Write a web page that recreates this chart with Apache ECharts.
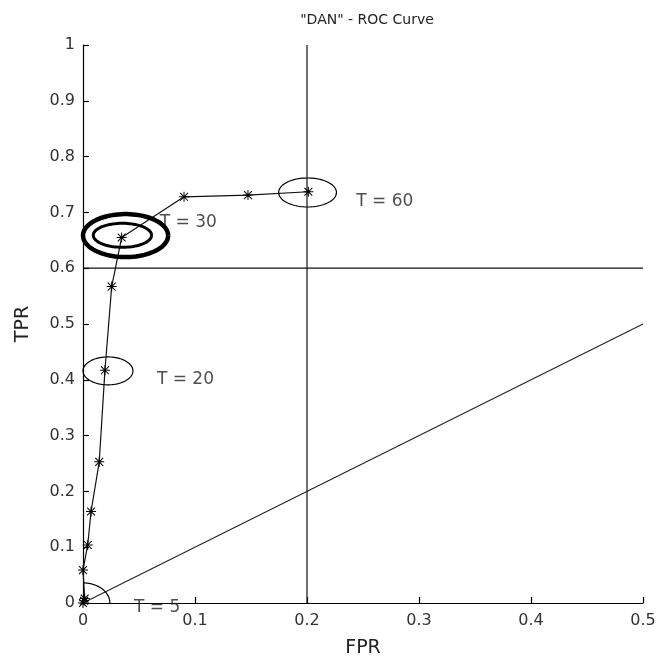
<!DOCTYPE html>
<html>
<head>
    <meta charset="UTF-8">
    <title>DAN - ROC Curve</title>
    <script type="text/javascript" src="https://cdn.jsdelivr.net/npm/echarts@6/dist/echarts.min.js"></script>
    <style>
        html, body { margin: 0; padding: 0; background: #fff; }
        #myChart { width: 659px; height: 667px; }
    </style>
</head>
<body>
<div id="myChart"></div>
<script>
// ROC points (FPR, TPR)
var fpr = [0, 0.001, 0.0015, 0, 0.0042, 0.0072, 0.0145, 0.0196, 0.0256, 0.0345, 0.0902, 0.1473, 0.2012];
var tpr = [0, 0.004, 0.008, 0.059, 0.104, 0.164, 0.253, 0.417, 0.567, 0.655, 0.728, 0.731, 0.737];

// diagonal and cut lines
var diagX = [0, 0.5];
var diagY = [0, 0.5];
var cutFpr = 0.2;
var cutTpr = 0.6;

// ellipses round the threshold points (data units)
var ellCx = [0, 0.0223, 0.0352, 0.038, 0.2005];
var ellCy = [0, 0.416, 0.659, 0.6585, 0.7357];
var ellRx = [0.024, 0.0223, 0.026, 0.038, 0.0258];
var ellRy = [0.036, 0.025, 0.0215, 0.0385, 0.026];
var ellLw = [1.2, 1.2, 3, 4.5, 1.2];
var ellEnd = [90, 360, 360, 360, 360]; // degrees drawn

// threshold labels
var labelText = ['T = 5', 'T = 20', 'T = 30', 'T = 60'];
var labelX = [0.0455, 0.066, 0.0686, 0.244];
var labelY = [-0.009, 0.3996, 0.6815, 0.7186];

var xTicks = [0, 0.5, 0.1];
var yTicks = [0, 1, 0.1];

var star = 'path://M9 0L11 0L11 20L9 20Z M0 9L20 9L20 11L0 11Z' +
    'M1.4 2.8L2.8 1.4L18.6 17.2L17.2 18.6Z M17.2 1.4L18.6 2.8L2.8 18.6L1.4 17.2Z';

var chart_myChart = echarts.init(document.getElementById('myChart'), null, {renderer: 'canvas'});

var rocData = [];
for (var i = 0; i < fpr.length; i++) {
    rocData.push([fpr[i], tpr[i]]);
}
var diagData = [];
for (var i = 0; i < diagX.length; i++) {
    diagData.push([diagX[i], diagY[i]]);
}
var ellData = [];
for (var i = 0; i < ellCx.length; i++) {
    ellData.push([ellCx[i], ellCy[i], ellRx[i], ellRy[i], ellLw[i], ellEnd[i]]);
}
var labelData = [];
for (var i = 0; i < labelText.length; i++) {
    labelData.push({name: labelText[i], value: [labelX[i], labelY[i]]});
}

var font = 'DejaVu Sans';

var axisCommon = {
    splitLine: {show: false},
    axisLine: {show: true, onZero: false, lineStyle: {color: '#000', width: 1.2}},
    axisTick: {show: true, inside: true, length: 6, lineStyle: {color: '#000', width: 1.2}},
    axisLabel: {color: '#333', fontSize: 16, fontFamily: font},
    nameLocation: 'middle',
    nameTextStyle: {color: '#222', fontSize: 19, fontFamily: font}
};

var option = {
    animation: false,
    backgroundColor: '#fff',
    title: {
        text: '"DAN" - ROC Curve',
        left: 362,
        textAlign: 'center',
        top: 8,
        textStyle: {fontSize: 14, fontWeight: 'normal', color: '#222', fontFamily: font}
    },
    grid: {left: 83, right: 16, top: 45, bottom: 64},
    xAxis: Object.assign({}, axisCommon, {
        type: 'value', min: xTicks[0], max: xTicks[1], interval: xTicks[2],
        name: 'FPR', nameGap: 36,
        axisLabel: Object.assign({}, axisCommon.axisLabel, {margin: 10})
    }),
    yAxis: Object.assign({}, axisCommon, {
        type: 'value', min: yTicks[0], max: yTicks[1], interval: yTicks[2],
        name: 'TPR', nameGap: 50,
        axisLabel: Object.assign({}, axisCommon.axisLabel, {margin: 8})
    }),
    series: [
        {
            type: 'line',
            data: diagData,
            symbol: 'none',
            silent: true,
            lineStyle: {color: '#222', width: 1.1}
        },
        {
            type: 'line',
            data: [[cutFpr, yTicks[0]], [cutFpr, yTicks[1]]],
            symbol: 'none',
            silent: true,
            lineStyle: {color: '#111', width: 1.2}
        },
        {
            type: 'line',
            data: [[xTicks[0], cutTpr], [xTicks[1], cutTpr]],
            symbol: 'none',
            silent: true,
            lineStyle: {color: '#111', width: 1.2}
        },
        {
            type: 'scatter',
            data: labelData,
            symbolSize: 0,
            clip: false,
            silent: true,
            z: 1,
            label: {
                show: true, position: 'right', distance: 0,
                formatter: '{b}', color: '#222', fontSize: 17, fontFamily: font
            }
        },
        {
            type: 'line',
            data: rocData,
            symbol: star,
            symbolSize: 10,
            showAllSymbol: true,
            silent: true,
            itemStyle: {color: '#000'},
            lineStyle: {color: '#111', width: 1.2},
            z: 3
        },
        {
            type: 'custom',
            data: ellData,
            clip: false,
            silent: true,
            z: 4,
            encode: {x: 0, y: 1},
            renderItem: function (params, api) {
                var c = api.coord([api.value(0), api.value(1)]);
                var s = api.size([api.value(2), api.value(3)]);
                var end = api.value(5) * Math.PI / 180;
                var pts = [];
                var n = 90;
                for (var k = 0; k <= n; k++) {
                    var t = end * k / n;
                    pts.push([c[0] + s[0] * Math.cos(t), c[1] - s[1] * Math.sin(t)]);
                }
                return {
                    type: 'polyline',
                    shape: {points: pts},
                    style: {stroke: '#000', lineWidth: api.value(4), fill: null}
                };
            }
        }
    ]
};

chart_myChart.setOption(option);
</script>
</body>
</html>
